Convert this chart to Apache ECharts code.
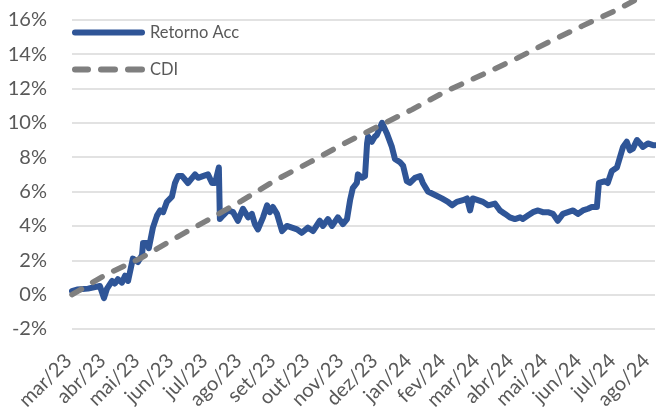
<!DOCTYPE html>
<html>
<head>
<meta charset="utf-8">
<script src="https://cdn.jsdelivr.net/npm/echarts@6/dist/echarts.min.js"></script>
<style>
  html, body { margin: 0; padding: 0; background: #fff; }
  #chart { width: 656px; height: 407px; }
</style>
</head>
<body>
<div id="chart"></div>
<script>
// month tick labels (one per month, x = month index)
const meses = ['mar/23', 'abr/23', 'mai/23', 'jun/23', 'jul/23', 'ago/23', 'set/23', 'out/23', 'nov/23',
  'dez/23', 'jan/24', 'fev/24', 'mar/24', 'abr/24', 'mai/24', 'jun/24', 'jul/24', 'ago/24'];

// Retorno Acc: position in months since mar/23, value in %
const retornoMes = [0.00, 0.15, 0.47, 0.82, 0.94, 1.03, 1.18, 1.26, 1.35, 1.47, 1.56, 1.65, 1.79, 1.94, 2.06,
  2.09, 2.21, 2.26, 2.38, 2.50, 2.59, 2.68, 2.79, 2.94, 3.03, 3.12, 3.24, 3.41, 3.62, 3.71, 3.85, 4.00, 4.12,
  4.21, 4.32, 4.35, 4.44, 4.59, 4.74, 4.88, 5.03, 5.18, 5.29, 5.38, 5.47, 5.62, 5.74, 5.82, 5.91, 6.03, 6.18,
  6.32, 6.47, 6.62, 6.76, 6.94, 7.09, 7.29, 7.38, 7.53, 7.65, 7.82, 7.97, 8.09, 8.18, 8.26, 8.38, 8.41, 8.53,
  8.62, 8.68, 8.71, 8.82, 8.91, 8.97, 9.12, 9.26, 9.41, 9.50, 9.65, 9.74, 9.85, 9.94, 10.09, 10.24, 10.32,
  10.47, 10.68, 10.88, 11.06, 11.18, 11.32, 11.50, 11.62, 11.71, 11.79, 11.94, 12.09, 12.24, 12.44, 12.59,
  12.74, 12.88, 13.03, 13.18, 13.26, 13.41, 13.56, 13.71, 13.85, 14.00, 14.15, 14.29, 14.44, 14.59, 14.74,
  14.88, 15.03, 15.18, 15.29, 15.44, 15.50, 15.68, 15.76, 15.88, 16.03, 16.12, 16.21, 16.32, 16.41, 16.50,
  16.62, 16.71, 16.79, 16.94, 17.09, 17.15];
const retornoValor = [0.2, 0.3, 0.35, 0.5, -0.2, 0.35, 0.8, 0.65, 0.9, 0.7, 1.1, 0.8, 2.1, 1.9, 2.3,
  3.0, 3.0, 2.7, 3.9, 4.6, 4.9, 4.8, 5.4, 5.7, 6.5, 6.9, 6.9, 6.5, 7.0, 6.8, 6.9, 7.0, 6.5,
  6.5, 7.4, 4.4, 4.6, 4.9, 4.8, 4.3, 5.0, 4.5, 4.7, 4.1, 3.8, 4.5, 5.2, 4.8, 5.1, 4.7, 3.7,
  4.0, 3.9, 3.8, 3.6, 3.9, 3.7, 4.3, 4.0, 4.4, 4.0, 4.5, 4.1, 4.4, 5.5, 6.2, 6.5, 7.0, 6.8,
  6.9, 8.8, 9.2, 8.9, 9.2, 9.3, 10.0, 9.4, 8.6, 7.9, 7.7, 7.5, 6.6, 6.5, 6.8, 6.9, 6.5,
  6.0, 5.8, 5.6, 5.4, 5.2, 5.4, 5.5, 5.6, 4.9, 5.6, 5.5, 5.4, 5.2, 5.3, 4.9,
  4.7, 4.5, 4.4, 4.5, 4.4, 4.6, 4.8, 4.9, 4.8, 4.8, 4.7, 4.3, 4.7, 4.8, 4.9,
  4.7, 4.9, 5.0, 5.1, 5.1, 6.5, 6.6, 6.5, 7.2, 7.4, 8.0, 8.6, 8.9, 8.4, 8.5,
  9.0, 8.8, 8.6, 8.8, 8.7, 8.7];

// CDI accumulated, one point per month start
const cdiMes = [0, 1, 2, 3, 4, 5, 6, 7, 8, 9, 10, 11, 12, 13, 14, 15, 16, 17, 17.15];
const cdiValor = [0, 1.17, 2.1, 3.25, 4.35, 5.47, 6.68, 7.71, 8.79, 9.79, 10.77, 11.84, 12.74, 13.67,
  14.68, 15.63, 16.55, 17.6, 17.73];

const yTicks = [-2, 0, 2, 4, 6, 8, 10, 12, 14, 16];

const fonte = 'Lato, "Noto Sans", sans-serif';
const corTexto = '#595959';

// legend icons: solid bar and three rounded dashes (73 x 6)
const iconeLinha = 'path://M3,0 H70 A3,3 0 0 1 70,6 H3 A3,3 0 0 1 3,0 Z';
const iconeTracos = 'path://M3,0 H16 A3,3 0 0 1 16,6 H3 A3,3 0 0 1 3,0 Z ' +
  'M29,0 H43 A3,3 0 0 1 43,6 H29 A3,3 0 0 1 29,0 Z ' +
  'M56,0 H70 A3,3 0 0 1 70,6 H56 A3,3 0 0 1 56,0 Z';

const chart = echarts.init(document.getElementById('chart'), null, {renderer: 'canvas'});

chart.setOption({
  animation: false,
  backgroundColor: '#ffffff',
  grid: {left: 72, right: 1, top: 0, bottom: 78, containLabel: false, outerBoundsMode: 'none'},
  legend: {
    orient: 'vertical',
    left: 72,
    top: 24,
    padding: 0,
    itemWidth: 73,
    itemHeight: 20,
    itemGap: 20,
    textStyle: {color: corTexto, fontSize: 16.5, fontFamily: fonte},
    data: [
      {name: 'Retorno Acc', icon: iconeLinha},
      {name: 'CDI', icon: iconeTracos}
    ]
  },
  xAxis: {
    type: 'value',
    min: 0,
    max: 17.15,
    interval: 1,
    axisLine: {show: false},
    axisTick: {show: false},
    splitLine: {show: false},
    axisLabel: {
      rotate: 45,
      align: 'right',
      verticalAlign: 'middle',
      margin: 25,
      padding: [0, 5, 0, 0],
      color: corTexto,
      fontSize: 20,
      fontFamily: fonte,
      formatter: (v) => {
        const i = Math.round(v);
        return Math.abs(v - i) < 1e-6 && meses[i] ? meses[i] : '';
      }
    }
  },
  yAxis: {
    type: 'value',
    min: -2,
    max: 17.15,
    interval: 2,
    axisLine: {show: false},
    axisTick: {show: false},
    splitLine: {show: true, showMaxLine: false, lineStyle: {color: '#d9d9d9', width: 1.5}},
    axisLabel: {
      margin: 25,
      color: corTexto,
      fontSize: 20,
      fontFamily: fonte,
      showMaxLabel: false,
      formatter: (v) => (yTicks.includes(Math.round(v)) && Math.abs(v - Math.round(v)) < 1e-6 ? v + '%' : '')
    }
  },
  series: [
    {
      name: 'Retorno Acc',
      type: 'line',
      data: retornoMes.map((m, i) => [m, retornoValor[i]]),
      showSymbol: false,
      symbol: 'none',
      color: '#2f5597',
      lineStyle: {color: '#2f5597', width: 6, cap: 'round', join: 'round'}
    },
    {
      name: 'CDI',
      type: 'line',
      data: cdiMes.map((m, i) => [m, cdiValor[i]]),
      showSymbol: false,
      symbol: 'none',
      color: '#7f7f7f',
      lineStyle: {color: '#7f7f7f', width: 5.5, type: [11, 13], cap: 'round', join: 'round'}
    }
  ]
});
</script>
</body>
</html>
